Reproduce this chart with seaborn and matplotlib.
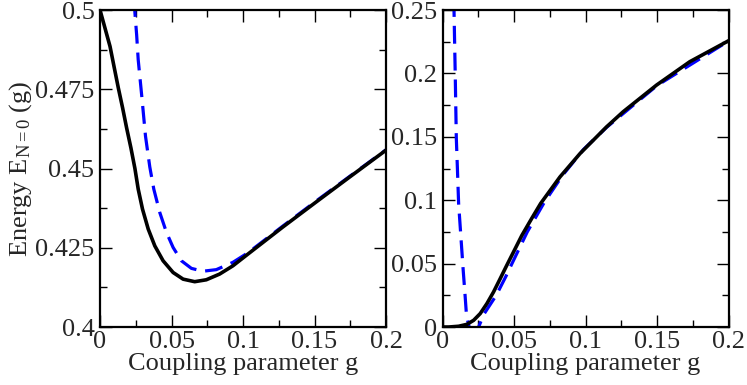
import matplotlib
matplotlib.use("Agg")
import matplotlib.pyplot as plt
import seaborn as sns
import pandas as pd
from matplotlib.ticker import MultipleLocator

# valores (painel esquerdo)
g_left_exact = [0, 0.007, 0.01, 0.0128, 0.0158, 0.0186, 0.0216, 0.0244, 0.0267, 0.0297,
                0.0337, 0.0383, 0.0441, 0.0511, 0.0581, 0.0662, 0.0743, 0.0836, 0.0929,
                0.1034, 0.1277, 0.151, 0.1742, 0.2]
e_left_exact = [0.5, 0.4885, 0.4817, 0.4754, 0.4691, 0.4628, 0.4565, 0.4500, 0.4435, 0.4372,
                0.4309, 0.4256, 0.4209, 0.4172, 0.4151, 0.4143, 0.4149, 0.4167, 0.4193,
                0.4230, 0.4315, 0.4394, 0.4472, 0.4558]

g_left_approx = [0.0235, 0.0244, 0.0256, 0.0267, 0.0293, 0.0318, 0.0348, 0.0376, 0.0418,
                 0.0465, 0.0511, 0.0569, 0.0639, 0.072, 0.0813, 0.0929, 0.1034, 0.1277,
                 0.151, 0.1742, 0.2]
e_left_approx = [0.507, 0.4991, 0.4922, 0.4843, 0.4723, 0.4602, 0.4505, 0.4435, 0.4361,
                 0.4298, 0.4251, 0.4209, 0.4185, 0.4176, 0.4181, 0.4204, 0.4234, 0.4318,
                 0.4397, 0.4474, 0.4559]

# painel direito
g_right_exact = [0, 0.0043, 0.0112, 0.017, 0.0217, 0.0263, 0.031, 0.0356, 0.0403, 0.0449,
                 0.0496, 0.0554, 0.0624, 0.0686, 0.0821, 0.0961, 0.1147, 0.1263, 0.1496,
                 0.1728, 0.2]
e_right_exact = [0, 0, 0.0006, 0.0021, 0.0053, 0.0106, 0.0185, 0.0276, 0.0382, 0.0487,
                 0.0592, 0.0722, 0.0858, 0.0975, 0.1184, 0.1368, 0.1579, 0.1698, 0.1908,
                 0.2092, 0.2258]

g_right_approx = [0.0078, 0.008, 0.0088, 0.0096, 0.0104, 0.0112, 0.0128, 0.0144, 0.0158,
                  0.0167, 0.021, 0.0252, 0.0288, 0.0375, 0.0443, 0.0485, 0.0592, 0.0712,
                  0.084, 0.0985, 0.1147, 0.15, 0.2]
e_right_approx = [0.26, 0.2487, 0.2013, 0.1487, 0.1236, 0.0974, 0.0711, 0.0448, 0.0237,
                  0.0092, -0.012, 0, 0.01, 0.025, 0.04, 0.05, 0.075, 0.0985,
                  0.1198, 0.14, 0.1575, 0.1905, 0.2256]

x_ticks = [0, 0.05, 0.1, 0.15, 0.2]
x_ticklabels = ["0", "0.05", "0.1", "0.15", "0.2"]
left_yticks = [0.4, 0.425, 0.45, 0.475, 0.5]
left_yticklabels = ["0.4", "0.425", "0.45", "0.475", "0.5"]
right_yticks = [0, 0.05, 0.1, 0.15, 0.2, 0.25]
right_yticklabels = ["0", "0.05", "0.1", "0.15", "0.2", "0.25"]

sns.set_style("white")
plt.rcParams["font.family"] = ["Liberation Serif", "DejaVu Serif"]
plt.rcParams["mathtext.fontset"] = "custom"
plt.rcParams["mathtext.rm"] = "Liberation Serif"
plt.rcParams["mathtext.it"] = "Liberation Serif:italic"

FS = 19
fig = plt.figure(figsize=(7.47, 3.85), dpi=100)
ax1 = fig.add_axes([0.1339, 0.1506, 0.3829, 0.8234])
ax2 = fig.add_axes([0.5925, 0.1506, 0.3829, 0.8234])

dash = (0, (5.6, 2.8))

for ax, (ge, ee, ga, ea) in zip(
        [ax1, ax2],
        [(g_left_exact, e_left_exact, g_left_approx, e_left_approx),
         (g_right_exact, e_right_exact, g_right_approx, e_right_approx)]):
    df_a = pd.DataFrame({"g": ga, "E": ea})
    df_e = pd.DataFrame({"g": ge, "E": ee})
    sns.lineplot(data=df_a, x="g", y="E", ax=ax, color="#0000ff", linewidth=2.3,
                 linestyle=dash, estimator=None, sort=False)
    sns.lineplot(data=df_e, x="g", y="E", ax=ax, color="black", linewidth=2.6,
                 estimator=None, sort=False)
    ax.set_xlim(0, 0.2)
    ax.set_xticks(x_ticks)
    ax.set_xticklabels(x_ticklabels)
    ax.xaxis.set_minor_locator(MultipleLocator(0.025))
    ax.tick_params(which="both", direction="in", top=True, right=True, bottom=True, left=True,
                   labelsize=FS, width=1.0, color="black")
    ax.tick_params(which="major", length=8.5, pad=4)
    ax.tick_params(which="minor", length=5)
    ax.tick_params(axis="x", pad=3)
    for s in ax.spines.values():
        s.set_linewidth(1.6)
        s.set_color("black")
    ax.set_xlabel("Coupling parameter g", fontsize=FS, labelpad=0)
    ax.set_ylabel("")

ax1.set_ylim(0.4, 0.5)
ax1.set_yticks(left_yticks)
ax1.set_yticklabels(left_yticklabels)
ax1.yaxis.set_minor_locator(MultipleLocator(0.0125))
ax1.set_ylabel(r"Energy $\mathrm{E_{N=0}}$ (g)", fontsize=FS, labelpad=1)

ax2.set_ylim(0, 0.25)
ax2.set_yticks(right_yticks)
ax2.set_yticklabels(right_yticklabels)
ax2.yaxis.set_minor_locator(MultipleLocator(0.025))

fig.savefig("out.png", dpi=100)
